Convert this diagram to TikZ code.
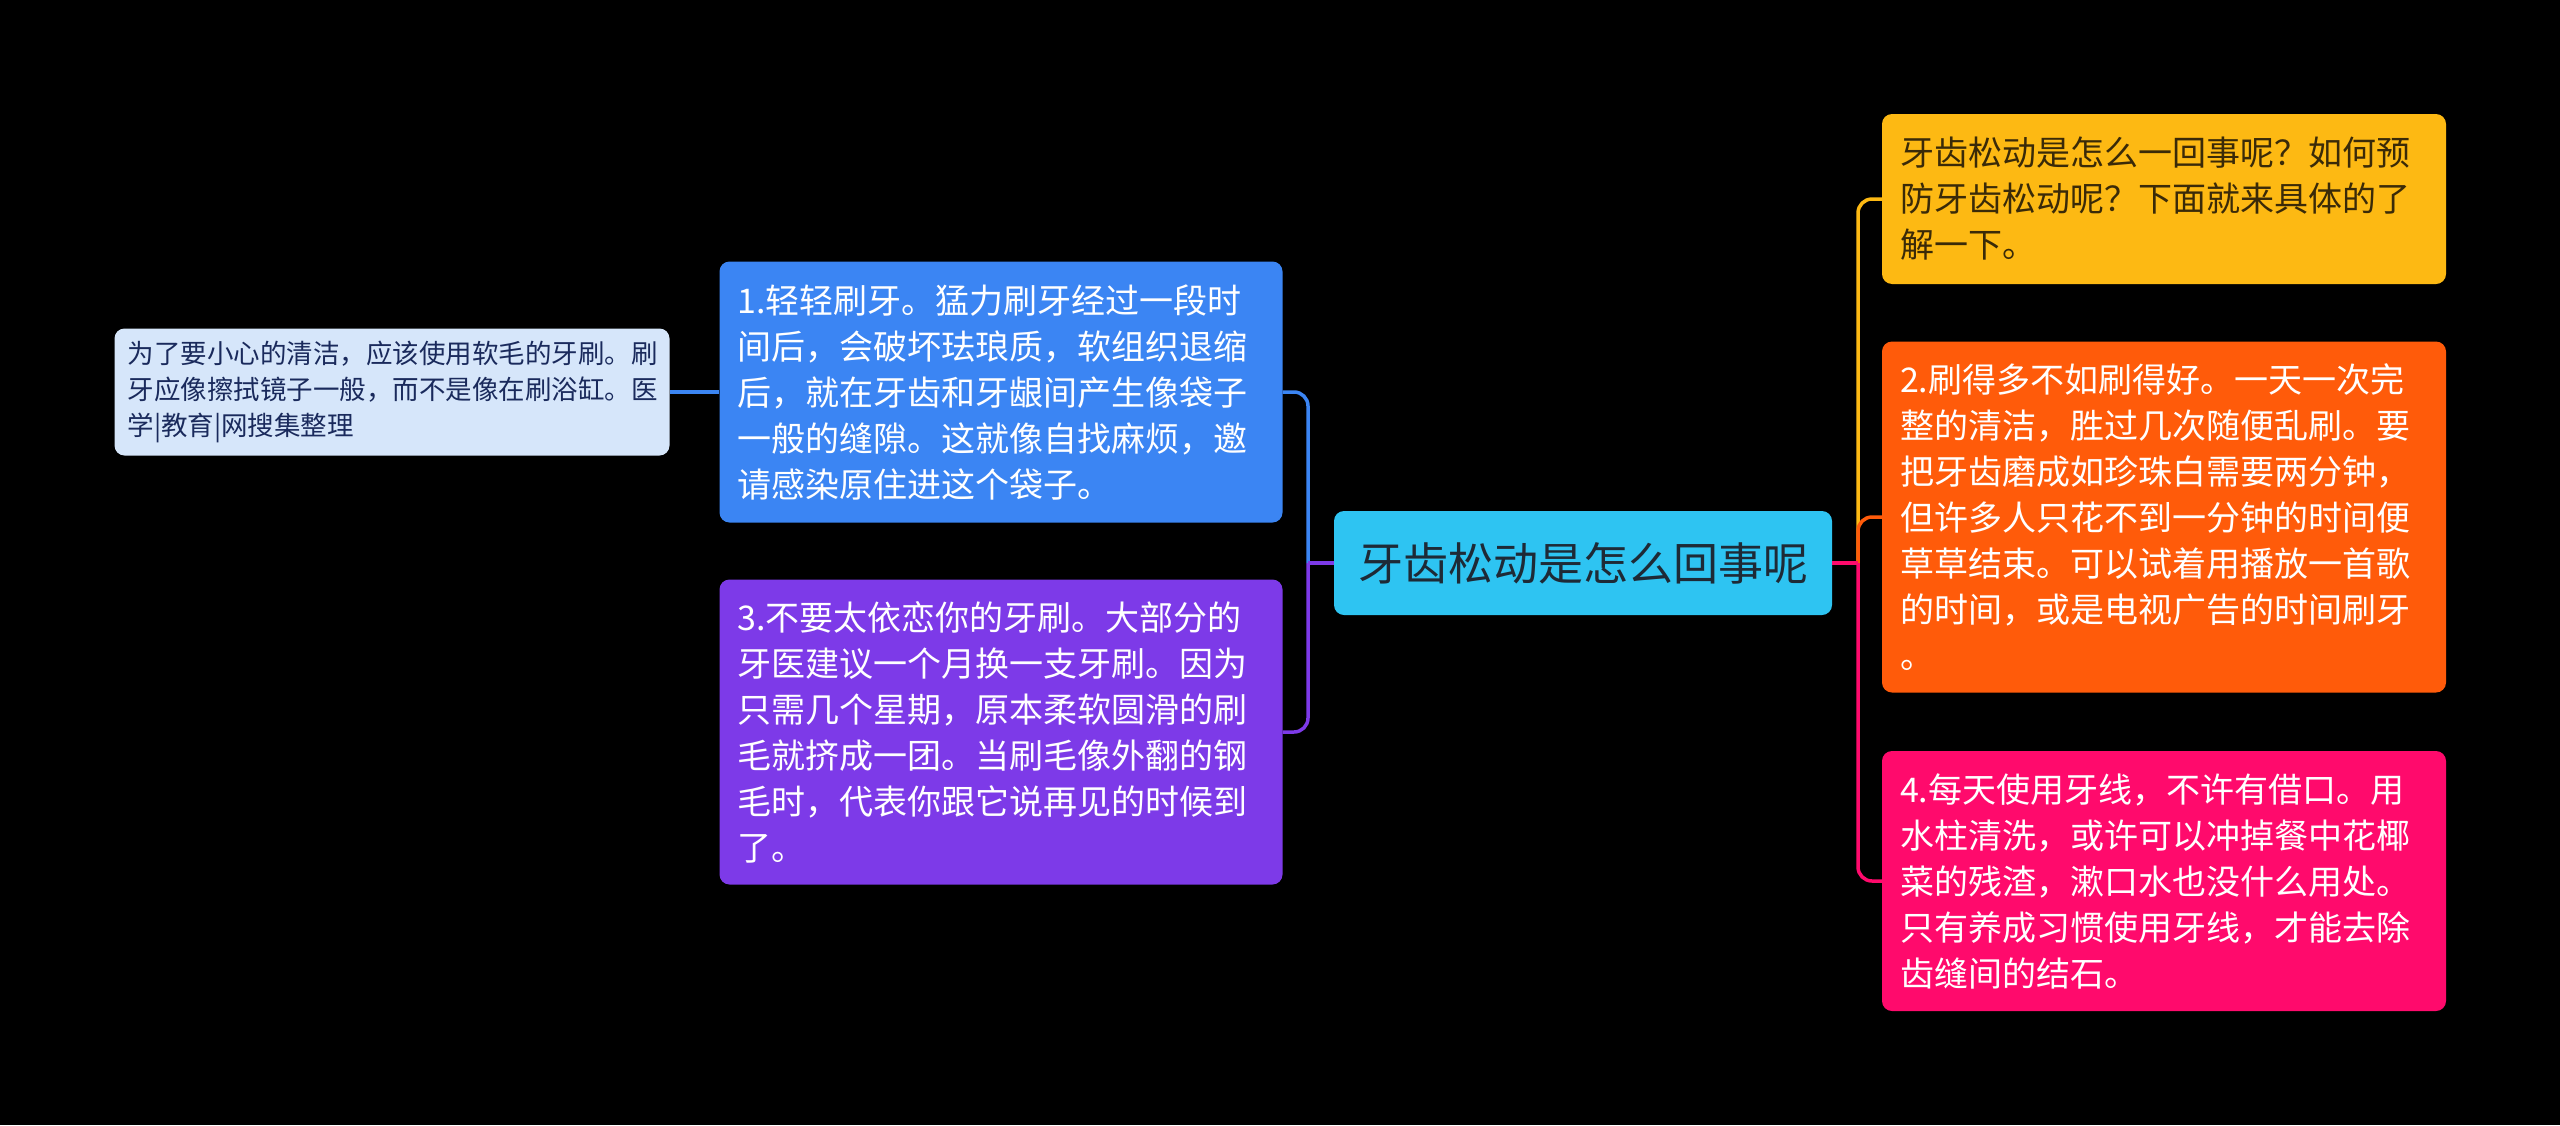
\documentclass[tikz,border=0pt]{standalone}
\usepackage{fontspec}
\setmainfont{Noto Sans CJK SC}
\definecolor{rootc}{HTML}{2EC4F2}
\definecolor{yel}{HTML}{FDB913}
\definecolor{ora}{HTML}{FF5B0A}
\definecolor{pnk}{HTML}{FF0A6C}
\definecolor{blu}{HTML}{3B85F3}
\definecolor{pur}{HTML}{7D3AE8}
\definecolor{lig}{HTML}{D6E6FA}
\definecolor{darktxt}{HTML}{1E2A36}
\definecolor{navytxt}{HTML}{1A2A5C}
\definecolor{browntxt}{HTML}{3A2A08}
\begin{document}
\begin{tikzpicture}[x=1pt,y=-1pt,
  box/.style={rounded corners=10pt, inner ysep=8pt, align=left, anchor=center},
  bigbox/.style={box, inner xsep=18pt, text width=528pt, minimum width=564pt,
    font=\fontsize{34}{46}\selectfont},
  smallbox/.style={box, inner xsep=13pt, text width=529pt, minimum width=555pt,
    font=\fontsize{26.5}{36}\selectfont},
  conn/.style={line width=3.5pt},
  elbowline/.style={conn, rounded corners=14pt}]
\fill[black] (0,0) rectangle (2560,1125);
\useasboundingbox (0,0) rectangle (2560,1125);

% root
\node[box, fill=rootc, text=darktxt, align=center, minimum width=498pt, minimum height=104pt,
  font=\fontsize{45}{54}\selectfont] (root) at (1583,563) {牙齿松动是怎么回事呢};

% right children
\node[bigbox, fill=yel, text=browntxt, minimum height=170pt] (yellow) at (2164,199)
 {牙齿松动是怎么一回事呢？如何预\\防牙齿松动呢？下面就来具体的了\\解一下。};
\node[bigbox, fill=ora, text=white, minimum height=351pt] (orange) at (2164,517)
 {2.刷得多不如刷得好。一天一次完\\整的清洁，胜过几次随便乱刷。要\\把牙齿磨成如珍珠白需要两分钟，\\但许多人只花不到一分钟的时间便\\草草结束。可以试着用播放一首歌\\的时间，或是电视广告的时间刷牙\\。};
\node[bigbox, fill=pnk, text=white, minimum height=260pt] (pink) at (2164,881)
 {4.每天使用牙线，不许有借口。用\\水柱清洗，或许可以冲掉餐中花椰\\菜的残渣，漱口水也没什么用处。\\只有养成习惯使用牙线，才能去除\\齿缝间的结石。};

% left children
\node[bigbox, fill=blu, text=white, text width=527pt, minimum width=563pt, minimum height=261pt] (blue) at (1001,392)
 {1.轻轻刷牙。猛力刷牙经过一段时\\间后，会破坏珐琅质，软组织退缩\\后，就在牙齿和牙龈间产生像袋子\\一般的缝隙。这就像自找麻烦，邀\\请感染原住进这个袋子。};
\node[bigbox, fill=pur, text=white, text width=527pt, minimum width=563pt, minimum height=305pt] (purple) at (1001,732)
 {3.不要太依恋你的牙刷。大部分的\\牙医建议一个月换一支牙刷。因为\\只需几个星期，原本柔软圆滑的刷\\毛就挤成一团。当刷毛像外翻的钢\\毛时，代表你跟它说再见的时候到\\了。};

% leaf
\node[smallbox, fill=lig, text=navytxt, minimum height=127pt] (leaf) at (392,392)
 {为了要小心的清洁，应该使用软毛的牙刷。刷\\牙应像擦拭镜子一般，而不是像在刷浴缸。医\\学|教育|网搜集整理};

% junction coordinates
\coordinate (rj) at (1858,563);
\coordinate (lj) at (1308,563);

% right connectors
\draw[elbowline, draw=yel] (rj) |- (yellow.west);
\draw[elbowline, draw=ora] (rj) |- (orange.west);
\draw[elbowline, draw=pnk] (rj) |- (pink.west);
\draw[conn, draw=pnk] (root.east) -- (rj);

% left connectors
\draw[elbowline, draw=blu] (lj) |- (blue.east);
\draw[elbowline, draw=pur] (lj) |- (purple.east);
\draw[conn, draw=pur] (root.west) -- (lj);

% leaf connector
\draw[conn, draw=blu] (blue.west) -- (leaf.east);
\end{tikzpicture}
\end{document}
